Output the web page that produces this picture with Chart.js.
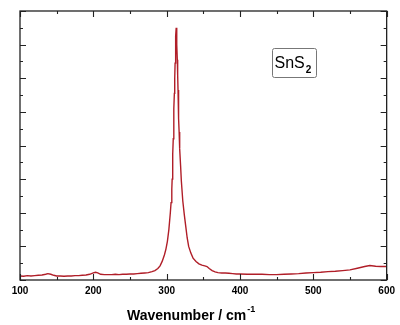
<!DOCTYPE html>
<html>
<head>
<meta charset="utf-8">
<script src="https://cdn.jsdelivr.net/npm/chart.js@4/dist/chart.umd.min.js"></script>
<style>
  html, body { margin: 0; padding: 0; background: #fff; }
  #wrap { width: 400px; height: 325px; }
</style>
</head>
<body>
<div id="wrap"><canvas id="c" width="400" height="325"></canvas></div>
<script>
// Raman spectrum of SnS2: wavenumber (cm-1) and intensity (arb. units)
const wavenumbers = [
  100, 105, 110, 115, 120, 125, 130, 135, 138, 142, 146, 150, 155, 160, 165, 170, 175, 180, 185, 190,
  195, 200, 203, 206, 210, 215, 220, 225, 230, 235, 240, 245, 250, 255, 260, 265, 270, 275, 280, 284,
  288, 291, 294, 297, 299, 301, 303, 305, 306, 307, 307.5, 308, 308.5, 309, 309.5, 310, 310.5, 311, 311.5, 312,
  312.5, 313, 313.5, 314, 314.5, 315, 315.5, 316, 316.5, 317, 317.5, 318, 319, 320, 322, 324, 326, 328, 330, 333,
  336, 340, 344, 348, 352, 355, 358, 362, 366, 370, 375, 380, 385, 390, 395, 400, 410, 420, 430, 440,
  450, 460, 470, 480, 490, 500, 510, 520, 530, 540, 550, 560, 570, 577, 585, 592, 600
];
const intensity = [
  0.12, 0.11, 0.13, 0.12, 0.13, 0.14, 0.15, 0.17, 0.19, 0.17, 0.14, 0.12, 0.12, 0.11, 0.12, 0.12, 0.13, 0.13, 0.14, 0.15,
  0.17, 0.21, 0.23, 0.21, 0.17, 0.16, 0.16, 0.16, 0.17, 0.16, 0.17, 0.17, 0.18, 0.18, 0.19, 0.20, 0.21, 0.22, 0.25, 0.28,
  0.34, 0.42, 0.56, 0.75, 0.92, 1.15, 1.50, 2.00, 2.30, 2.70, 3.00, 3.35, 3.75, 4.20, 4.65, 5.10, 5.55, 6.00, 6.45, 6.90,
  7.25, 7.50, 7.30, 7.00, 6.55, 6.10, 5.65, 5.20, 4.80, 4.40, 4.15, 3.90, 3.40, 2.95, 2.35, 1.95, 1.60, 1.25, 1.00, 0.80,
  0.65, 0.55, 0.48, 0.44, 0.42, 0.40, 0.34, 0.28, 0.24, 0.22, 0.21, 0.21, 0.20, 0.19, 0.18, 0.18, 0.17, 0.17, 0.17, 0.16,
  0.16, 0.17, 0.18, 0.19, 0.21, 0.22, 0.23, 0.25, 0.26, 0.28, 0.30, 0.35, 0.40, 0.43, 0.41, 0.40, 0.40
];

// Axis ranges and tick positions
const xRange = [100, 600];
const yRange = [0, 8];
const xMajorTicks = [100, 200, 300, 400, 500, 600];
const xMinorTicks = [150, 250, 350, 450, 550];
const yMajorTicks = [0, 1, 2, 3, 4, 5, 6, 7, 8];
const yMinorTicks = [0.5, 1.5, 2.5, 3.5, 4.5, 5.5, 6.5, 7.5];

const xTitle = 'Wavenumber / cm';
const xTitleSup = '-1';
const sampleName = 'SnS';
const sampleSub = '2';

const points = wavenumbers.map((w, i) => ({ x: w, y: intensity[i] }));

// Frame, inward ticks on all four sides, axis title and sample label
const framePlugin = {
  id: 'frame',
  afterDraw(chart) {
    const ctx = chart.ctx;
    const a = chart.chartArea;
    const xs = chart.scales.x, ys = chart.scales.y;
    ctx.save();
    ctx.strokeStyle = '#222';
    ctx.lineWidth = 1.3;
    ctx.strokeRect(a.left, a.top, a.right - a.left, a.bottom - a.top);

    ctx.lineWidth = 1.1;
    const tickX = (vals, len) => vals.forEach(v => {
      const px = Math.round(xs.getPixelForValue(v)) + 0.5;
      ctx.beginPath();
      ctx.moveTo(px, a.bottom); ctx.lineTo(px, a.bottom - len);
      ctx.moveTo(px, a.top); ctx.lineTo(px, a.top + len);
      ctx.stroke();
    });
    const tickY = (vals, len) => vals.forEach(v => {
      const py = Math.round(ys.getPixelForValue(v)) + 0.5;
      ctx.beginPath();
      ctx.moveTo(a.left, py); ctx.lineTo(a.left + len, py);
      ctx.moveTo(a.right, py); ctx.lineTo(a.right - len, py);
      ctx.stroke();
    });
    tickX(xMajorTicks, 6); tickX(xMinorTicks, 3);
    tickY(yMajorTicks, 6); tickY(yMinorTicks, 3);

    // x-axis title with superscript
    ctx.fillStyle = '#000';
    ctx.textBaseline = 'alphabetic';
    ctx.textAlign = 'left';
    ctx.font = 'bold 14px "Liberation Sans", Arial, sans-serif';
    const tx = a.left + 107, ty = 320;
    ctx.fillText(xTitle, tx, ty);
    const tw = ctx.measureText(xTitle).width;
    ctx.font = 'bold 9px "Liberation Sans", Arial, sans-serif';
    ctx.fillText(xTitleSup, tx + tw + 1, ty - 8);

    // sample label box
    const bx = a.left + 252.5, by = 48.5, bw = 44, bh = 29;
    ctx.strokeStyle = '#777';
    ctx.lineWidth = 1;
    ctx.beginPath();
    if (ctx.roundRect) ctx.roundRect(bx, by, bw, bh, 2); else ctx.rect(bx, by, bw, bh);
    ctx.stroke();
    ctx.fillStyle = '#000';
    ctx.font = '16px "Liberation Sans", Arial, sans-serif';
    ctx.fillText(sampleName, bx + 2, 68);
    const sw = ctx.measureText(sampleName).width;
    ctx.font = 'bold 10px "Liberation Sans", Arial, sans-serif';
    ctx.fillText(sampleSub, bx + 2 + sw + 1, 73);
    ctx.restore();
  }
};

new Chart(document.getElementById('c'), {
  type: 'line',
  data: {
    datasets: [{
      data: points,
      borderColor: '#b01e28',
      borderWidth: 1.4,
      pointRadius: 0,
      tension: 0,
      fill: false
    }]
  },
  options: {
    responsive: false,
    animation: false,
    events: [],
    layout: { padding: { left: 20, right: 13, top: 11, bottom: 0 } },
    plugins: { legend: { display: false }, tooltip: { enabled: false } },
    scales: {
      x: {
        type: 'linear',
        min: xRange[0], max: xRange[1],
        grid: { display: false, drawTicks: false },
        border: { display: false },
        afterBuildTicks(scale) { scale.ticks = xMajorTicks.map(v => ({ value: v })); },
        afterFit(scale) { scale.height = 45; },
        ticks: {
          padding: 5,
          maxRotation: 0,
          color: '#000',
          font: { family: '"Liberation Sans", Arial, sans-serif', size: 10, weight: 'bold' }
        }
      },
      y: {
        type: 'linear',
        min: yRange[0], max: yRange[1],
        display: true,
        grid: { display: false, drawTicks: false },
        border: { display: false },
        afterFit(scale) { scale.width = 0; },
        ticks: { display: false }
      }
    }
  },
  plugins: [framePlugin]
});
</script>
</body>
</html>
